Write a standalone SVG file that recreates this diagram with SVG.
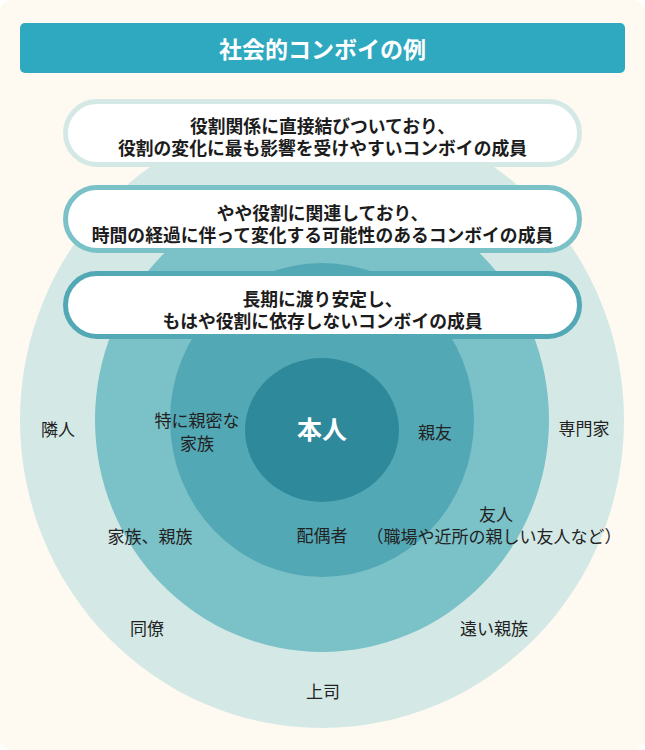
<svg xmlns="http://www.w3.org/2000/svg" width="645" height="750" viewBox="0 0 645 750">
  <style>
    .t { font-family: "Noto Sans CJK JP", "Noto Sans", sans-serif; dominant-baseline: central; text-anchor: middle; }
    .pill-text { font-size: 17.8px; font-weight: 700; fill: #1c1c1c; }
    .label { font-size: 17px; font-weight: 400; fill: #222222; }
    .pill { fill: #ffffff; stroke-width: 5; }
  </style>
  <rect x="0" y="0" width="645" height="750" fill="#ffffff"/>
  <rect id="background" x="0" y="0" width="645" height="750" rx="12" fill="#fef9f1"/>

  <g id="title">
    <rect x="20" y="23" width="605" height="50" rx="5" fill="#2fa9bf"/>
    <text class="t" x="322.5" y="48" font-size="23" font-weight="700" fill="#ffffff">社会的コンボイの例</text>
  </g>

  <g id="rings">
    <ellipse id="ring-outer" cx="322" cy="420" rx="302" ry="308" fill="#d4e9e6"/>
    <ellipse id="ring-middle" cx="322" cy="420" rx="227" ry="232" fill="#7bc1c8"/>
    <ellipse id="ring-inner" cx="322" cy="420" rx="152" ry="157" fill="#53a8b5"/>
    <ellipse id="ring-self" cx="322" cy="430" rx="77" ry="72" fill="#2e8a9a"/>
  </g>

  <g id="pill-outer">
    <rect class="pill" x="65.5" y="101.5" width="514" height="63" rx="31.5" stroke="#d4e9e6"/>
    <text class="t pill-text" x="322.5" y="124.5">役割関係に直接結びついており、</text>
    <text class="t pill-text" x="322.5" y="147">役割の変化に最も影響を受けやすいコンボイの成員</text>
  </g>
  <g id="pill-middle">
    <rect class="pill" x="65.5" y="187.5" width="514" height="63" rx="31.5" stroke="#7bc1c8"/>
    <text class="t pill-text" x="322.5" y="211.5">やや役割に関連しており、</text>
    <text class="t pill-text" x="322.5" y="234">時間の経過に伴って変化する可能性のあるコンボイの成員</text>
  </g>
  <g id="pill-inner">
    <rect class="pill" x="65.5" y="273.5" width="514" height="63" rx="31.5" stroke="#53a8b5"/>
    <text class="t pill-text" x="322.5" y="297.5">長期に渡り安定し、</text>
    <text class="t pill-text" x="322.5" y="320">もはや役割に依存しないコンボイの成員</text>
  </g>

  <g id="node-self">
    <text class="t" x="322" y="428" font-size="25" font-weight="700" fill="#ffffff">本人</text>
  </g>
  <g id="node-close-family">
    <text class="t label" x="197" y="419">特に親密な</text>
    <text class="t label" x="197" y="442">家族</text>
  </g>
  <g id="node-best-friend"><text class="t label" x="435" y="431">親友</text></g>
  <g id="node-spouse"><text class="t label" x="322" y="534">配偶者</text></g>
  <g id="node-family"><text class="t label" x="150" y="535">家族、親族</text></g>
  <g id="node-friends">
    <text class="t label" x="496" y="513">友人</text>
    <text class="t label" x="494" y="535">（職場や近所の親しい友人など）</text>
  </g>
  <g id="node-neighbor"><text class="t label" x="58" y="428">隣人</text></g>
  <g id="node-expert"><text class="t label" x="584" y="427">専門家</text></g>
  <g id="node-colleague"><text class="t label" x="147" y="627">同僚</text></g>
  <g id="node-distant-relatives"><text class="t label" x="494" y="627">遠い親族</text></g>
  <g id="node-boss"><text class="t label" x="323" y="690">上司</text></g>
</svg>
